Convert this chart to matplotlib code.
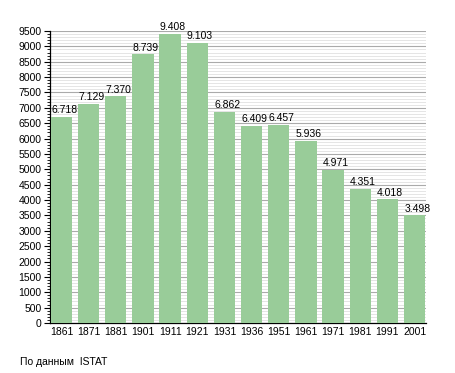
import matplotlib
matplotlib.use("Agg")
import matplotlib.pyplot as plt
from matplotlib.ticker import MultipleLocator

plt.rcParams['font.family'] = ['Liberation Sans', 'DejaVu Sans']

years = ["1861", "1871", "1881", "1901", "1911", "1921", "1931", "1936",
         "1951", "1961", "1971", "1981", "1991", "2001"]
population = [6718, 7129, 7370, 8739, 9408, 9103, 6862, 6409,
              6457, 5936, 4971, 4351, 4018, 3498]

fig = plt.figure(figsize=(4.55, 3.73), dpi=100)
ax = fig.add_axes([50/455, 50/373, 376/455, 292/373])

x = range(len(years))
ax.bar(x, population, width=0.79, color="#99cc99", zorder=3)
for xi, v in zip(x, population):
    s = f"{v:,}".replace(",", ".")
    ax.text(xi + 0.1, v + 60, s, ha="center", va="bottom", fontsize=7.5, zorder=4)

ax.set_xlim(-0.42, len(years) - 0.58)
ax.set_ylim(0, 9500)
ax.set_xticks(list(x))
ax.set_xticklabels(years, fontsize=7.5)
ax.yaxis.set_major_locator(MultipleLocator(500))
ax.yaxis.set_minor_locator(MultipleLocator(100))
ax.tick_params(axis='y', labelsize=7.5, length=4, width=0.8, pad=2)
ax.tick_params(axis='y', which='minor', length=2, width=0.6)
ax.tick_params(axis='x', length=0, pad=3)
ax.grid(axis='y', which='major', color="#aaaaaa", linewidth=0.8, zorder=0)
ax.grid(axis='y', which='minor', color="#e0e0e0", linewidth=0.6, zorder=0)
for s in ["top", "right"]:
    ax.spines[s].set_visible(False)
ax.spines["left"].set_linewidth(0.9)
ax.spines["bottom"].set_linewidth(0.9)

fig.text(20/455, 1 - 362/373, "По данным  ISTAT", fontsize=7.5, va="center", ha="left")

fig.savefig("out.png", dpi=100)
